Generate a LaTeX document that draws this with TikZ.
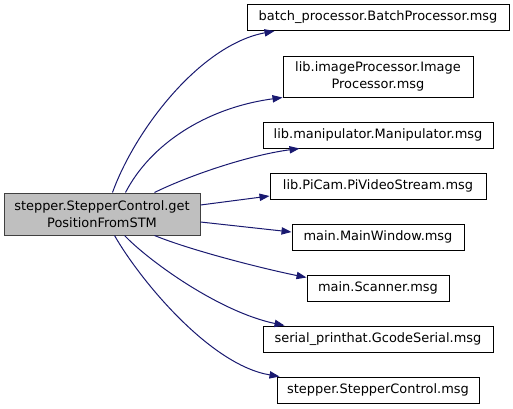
\documentclass[tikz,border=0pt]{standalone}
\usepackage{fontspec}
\setmainfont{DejaVu Sans}
\usetikzlibrary{arrows.meta,calc}
\definecolor{edgecol}{HTML}{191970}
\definecolor{mainfill}{HTML}{BFBFBF}
\definecolor{mainline}{HTML}{404040}
\tikzset{
  box/.style={draw=black, line width=0.75pt, fill=white, inner sep=0pt, align=center,
    font=\fontsize{9.7pt}{12.4pt}\selectfont, minimum height=19.5pt},
  mainbox/.style={box, draw=mainline, fill=mainfill},
  edge/.style={draw=edgecol, line width=0.75pt, -{Triangle[length=7.5pt,width=5.5pt]}},
}
\begin{document}
\begin{tikzpicture}[x=0.75pt,y=-0.75pt]
\useasboundingbox (0,0) rectangle (513,408);
\node[mainbox, minimum width=147pt, minimum height=31.5pt] (main) at (102,214) {stepper.StepperControl.get\\PositionFromSTM};
\node[box, minimum width=196.5pt] (n1) at (378,17.5) {batch\_processor.BatchProcessor.msg};
\node[box, minimum width=142.5pt, minimum height=30.75pt] (n2) at (378,76.5) {lib.imageProcessor.Image\\Processor.msg};
\node[box, minimum width=172.5pt] (n3) at (378,135) {lib.manipulator.Manipulator.msg};
\node[box, minimum width=162pt] (n4) at (378,186) {lib.PiCam.PiVideoStream.msg};
\node[box, minimum width=129pt] (n5) at (378,237) {main.MainWindow.msg};
\node[box, minimum width=106.5pt] (n6) at (378,288) {main.Scanner.msg};
\node[box, minimum width=172.5pt] (n7) at (378,339) {serial\_printhat.GcodeSerial.msg};
\node[box, minimum width=151.5pt] (n8) at (378,390) {stepper.StepperControl.msg};

\draw[edge] ($(main.north west)+(109,0)$) .. controls (135,130) and (200,45) .. ($(n1.south west)+(28,0)$);
\draw[edge] ($(main.north west)+(122,0)$) .. controls (150,145) and (205,108) .. ($(n2.south west)+(0,0)$);
\draw[edge] ($(main.north west)+(151,0)$) .. controls (190,175) and (250,155) .. ($(n3.south west)+(37,0)$);
\draw[edge] ($(main.east)+(0,-9)$) -- ($(n4.west)+(0,10)$);
\draw[edge] ($(main.east)+(0,8)$) -- ($(n5.west)+(0,-5)$);
\draw[edge] ($(main.south west)+(151,0)$) .. controls (190,250) and (260,268) .. ($(n6.north west)+(0,3)$);
\draw[edge] ($(main.south west)+(121,0)$) .. controls (150,262) and (220,312) .. ($(n7.north west)+(22,0)$);
\draw[edge] ($(main.south west)+(111,0)$) .. controls (140,280) and (210,365) .. ($(n8.north west)+(3,0)$);
\end{tikzpicture}
\end{document}
